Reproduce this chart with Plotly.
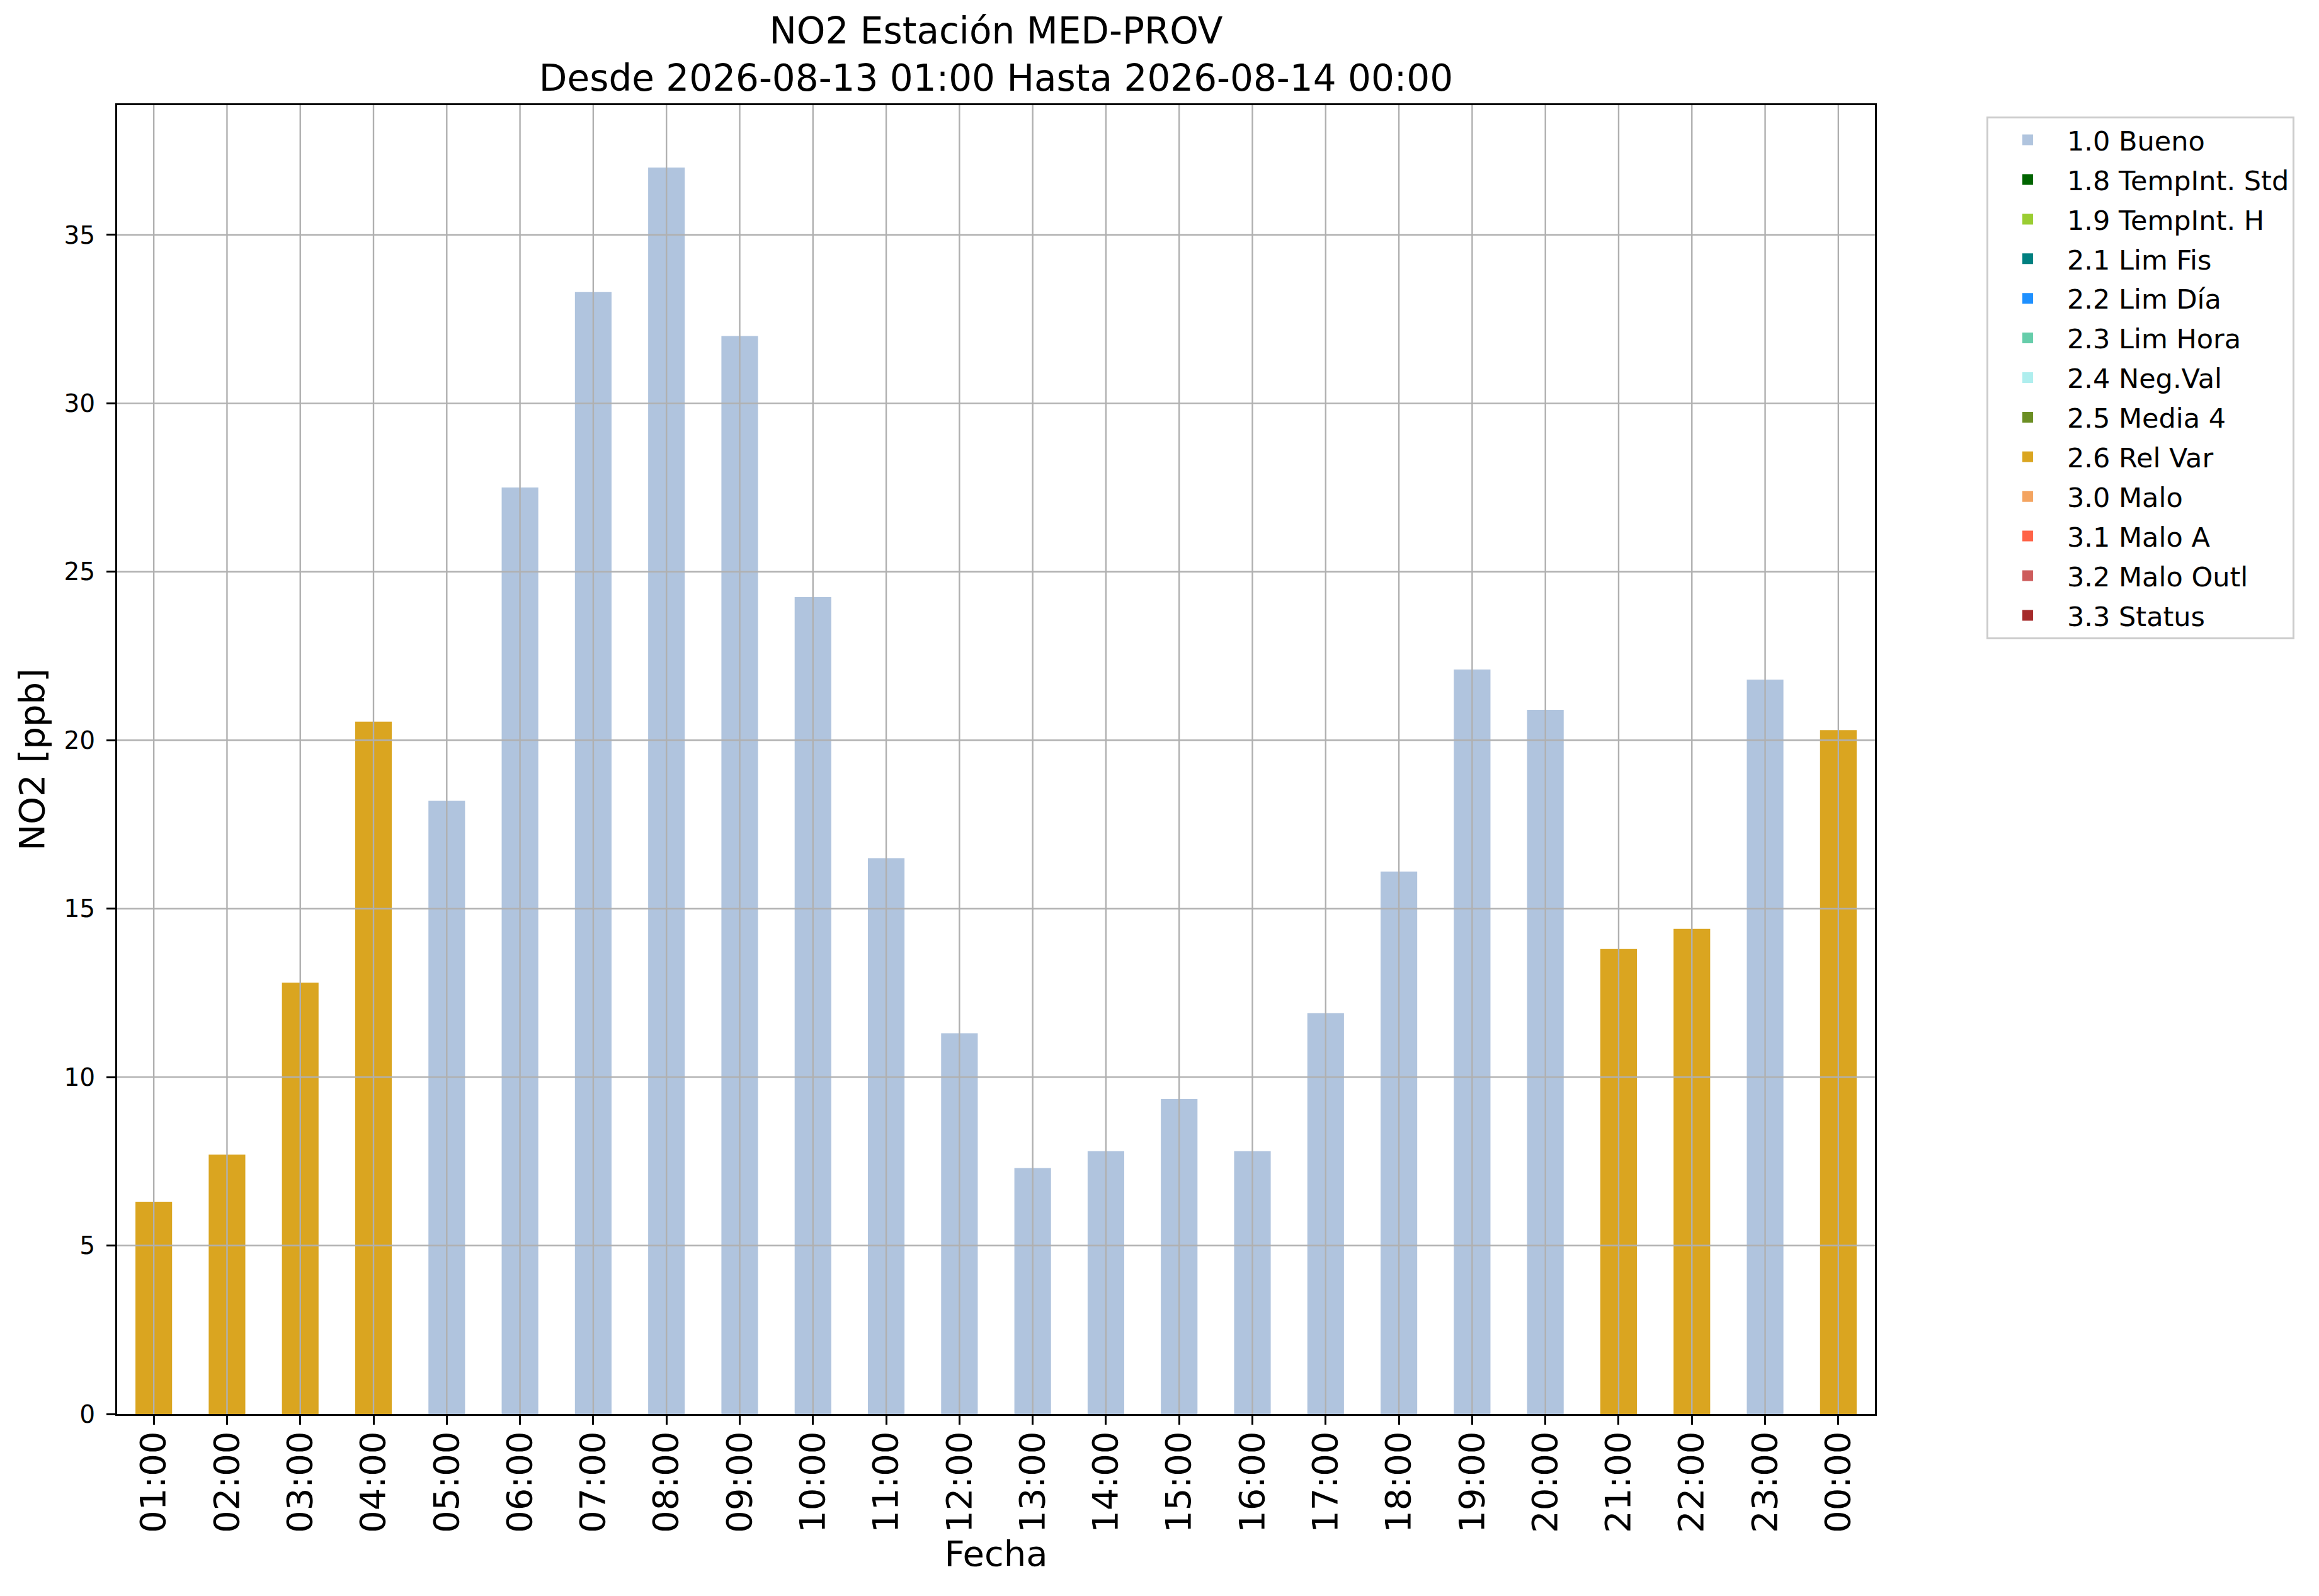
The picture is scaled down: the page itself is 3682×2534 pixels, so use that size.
import plotly.graph_objects as go

# horas del día (eje x)
horas = ["01:00", "02:00", "03:00", "04:00", "05:00", "06:00", "07:00", "08:00",
         "09:00", "10:00", "11:00", "12:00", "13:00", "14:00", "15:00", "16:00",
         "17:00", "18:00", "19:00", "20:00", "21:00", "22:00", "23:00", "00:00"]

# concentración NO2 [ppb]
no2 = [6.3, 7.7, 12.8, 20.55, 18.2, 27.5, 33.3, 37.0, 32.0, 24.25, 16.5, 11.3,
       7.3, 7.8, 9.35, 7.8, 11.9, 16.1, 22.1, 20.9, 13.8, 14.4, 21.8, 20.3]

# bandera de calidad de cada dato
banderas = ["2.6", "2.6", "2.6", "2.6", "1.0", "1.0", "1.0", "1.0",
            "1.0", "1.0", "1.0", "1.0", "1.0", "1.0", "1.0", "1.0",
            "1.0", "1.0", "1.0", "1.0", "2.6", "2.6", "1.0", "2.6"]

codigos = ["1.0", "1.8", "1.9", "2.1", "2.2", "2.3", "2.4", "2.5", "2.6",
           "3.0", "3.1", "3.2", "3.3"]
etiquetas = ["1.0 Bueno", "1.8 TempInt. Std", "1.9 TempInt. H", "2.1 Lim Fis",
             "2.2 Lim Día", "2.3 Lim Hora", "2.4 Neg.Val", "2.5 Media 4",
             "2.6 Rel Var", "3.0 Malo", "3.1 Malo A", "3.2 Malo Outl", "3.3 Status"]
colores = ["#B0C4DE", "#006400", "#9ACD32", "#008080", "#1E90FF", "#66CDAA",
           "#AFEEEE", "#6B8E23", "#DAA520", "#F4A460", "#FF6347", "#CD5C5C",
           "#A52A2A"]

yticks = [0, 5, 10, 15, 20, 25, 30, 35]

FONT = "DejaVu Sans"
GRID = "#b0b0b0"
OFF = 8  # margen del <body> de la página

fig = go.Figure()

# barras por bandera
for cod, etq, col in zip(codigos, etiquetas, colores):
    yv = [v if b == cod else None for v, b in zip(no2, banderas)]
    fig.add_trace(go.Bar(x=horas, y=yv, name=etq, marker_color=col,
                         marker_line_width=0, showlegend=False,
                         legendgroup=etq))

# entradas de la leyenda
for etq, col in zip(etiquetas, colores):
    fig.add_trace(go.Bar(x=[horas[0]], y=[None], name=etq, marker_color=col,
                         marker_line=dict(color=col, width=5),
                         legendgroup=etq, showlegend=True))

# rejilla por encima de las barras (como en matplotlib)
shapes = []
for h in horas:
    shapes.append(dict(type="line", xref="x", yref="paper", x0=h, x1=h, y0=0, y1=1,
                       line=dict(color=GRID, width=2.4), layer="above"))
for t in yticks[1:]:
    shapes.append(dict(type="line", xref="paper", yref="y", x0=0, x1=1, y0=t, y1=t,
                       line=dict(color=GRID, width=2.4), layer="above"))

fig.update_layout(
    width=3682, height=2534, autosize=False,
    margin=dict(l=186 - OFF, r=705 + OFF, t=167 - OFF, b=289 + OFF, pad=0),
    paper_bgcolor="white", plot_bgcolor="white",
    font=dict(family=FONT, color="black"),
    title=dict(text="NO2 Estación MED-PROV<br>Desde 2026-08-13 01:00 Hasta 2026-08-14 00:00",
               x=0.5, xref="paper", xanchor="center",
               y=1 - 61 / 2534, yref="container", yanchor="top",
               font=dict(size=58, family=FONT, color="black")),
    barmode="overlay", bargap=0.5,
    shapes=shapes,
    legend=dict(x=1.0634, y=0.9915, xanchor="left", yanchor="top",
                bordercolor="#cccccc", borderwidth=3, bgcolor="white",
                font=dict(size=43, family=FONT, color="black"),
                tracegroupgap=4, itemwidth=115),
)

fig.update_xaxes(
    type="category", tickangle=-90,
    tickfont=dict(size=56, family=FONT),
    ticks="outside", ticklen=14, tickwidth=3.3, tickcolor="black",
    ticklabelstandoff=-12,
    showline=True, linecolor="black", linewidth=3.3, mirror=True,
    showgrid=False, zeroline=False,
    title=dict(text="Fecha", font=dict(size=56, family=FONT), standoff=14),
)
fig.update_yaxes(
    range=[0, 38.85], tickvals=yticks, tickfont=dict(size=39, family=FONT),
    ticks="outside", ticklen=14, tickwidth=3.3, tickcolor="black",
    ticklabelstandoff=10,
    showline=True, linecolor="black", linewidth=3.3, mirror=True,
    showgrid=False, zeroline=False,
    title=dict(text="NO2 [ppb]", font=dict(size=56, family=FONT), standoff=13),
)

fig.write_html("out.html")
